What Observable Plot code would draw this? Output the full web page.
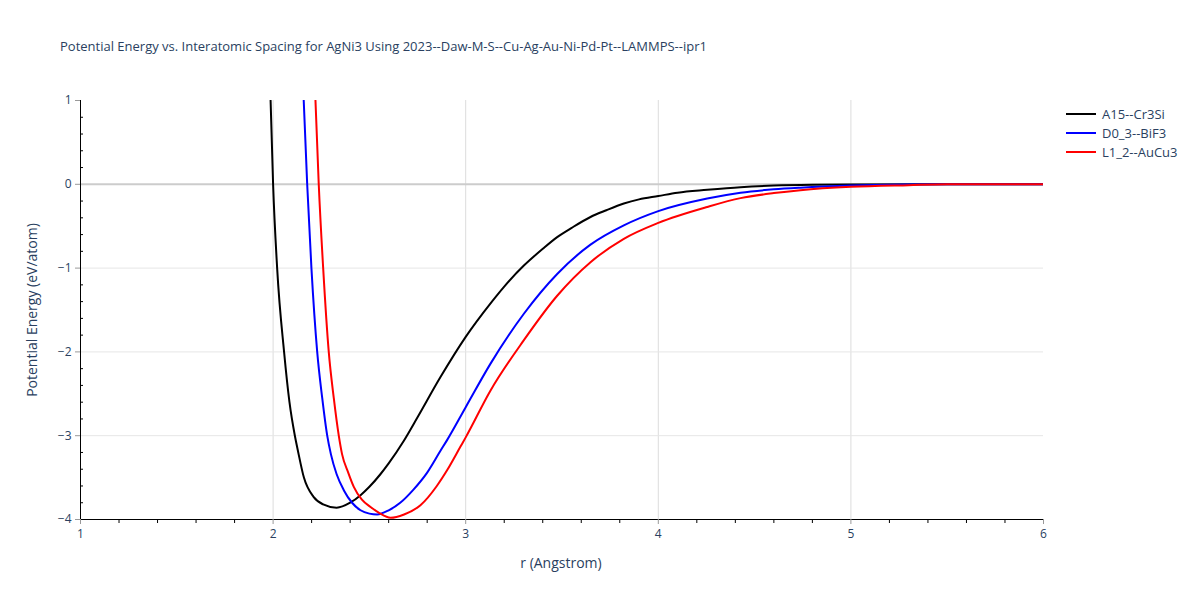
<!DOCTYPE html>
<html><head><meta charset="utf-8">
<script src="https://cdn.jsdelivr.net/npm/d3@7"></script>
<script src="https://cdn.jsdelivr.net/npm/@observablehq/plot@0.6"></script>
<style>
body{margin:0;background:#fff;font-family:"Open Sans",sans-serif;}
#wrap{position:relative;width:1200px;height:600px;}
.abs{position:absolute;color:#2a3f5f;white-space:nowrap;}
#title{left:60px;top:37px;font-size:13px;}
#xlab{left:561px;top:553px;font-size:14px;transform:translateX(-50%);}
#ylab{left:31px;top:310px;font-size:14px;transform:translate(-50%,-50%) rotate(-90deg);}
#legend{left:1066px;top:104px;font-size:13px;}
.lrow{display:flex;align-items:center;height:19px;}
.lrow svg{margin-right:6px;}
</style>
</head><body>
<div id="wrap">
<div id="plot"></div>
<div class="abs" id="title">Potential Energy vs. Interatomic Spacing for AgNi3 Using 2023--Daw-M-S--Cu-Ag-Au-Ni-Pd-Pt--LAMMPS--ipr1</div>
<div class="abs" id="xlab">r (Angstrom)</div>
<div class="abs" id="ylab">Potential Energy (eV/atom)</div>
<div class="abs" id="legend"></div>
</div>
<script>
const seriesNames = ["A15--Cr3Si", "D0_3--BiF3", "L1_2--AuCu3"];
const seriesColors = ["#000000", "#0000ff", "#ff0000"];

const rA15 = [1.987, 2.0, 2.021, 2.057, 2.085, 2.113, 2.128, 2.16, 2.21, 2.26, 2.33, 2.40, 2.454, 2.50, 2.557, 2.60, 2.679, 2.75, 2.869, 3.0, 3.129, 3.2, 3.302, 3.4, 3.475, 3.55, 3.648, 3.73, 3.821, 3.9, 4.0, 4.1, 4.254, 4.427, 4.6, 4.8, 5.0, 5.5, 6.0];
const eA15 = [1.0, 0.0, -1.0, -2.0, -2.6, -3.0, -3.17, -3.5, -3.73, -3.82, -3.86, -3.80, -3.71, -3.61, -3.46, -3.33, -3.06, -2.78, -2.30, -1.82, -1.42, -1.22, -0.97, -0.77, -0.63, -0.52, -0.39, -0.31, -0.23, -0.18, -0.14, -0.10, -0.066, -0.034, -0.015, -0.005, -0.002, 0.0, 0.0];

const rD03 = [2.159, 2.177, 2.199, 2.229, 2.255, 2.281, 2.30, 2.33, 2.367, 2.41, 2.454, 2.50, 2.54, 2.60, 2.66, 2.73, 2.80, 2.869, 2.904, 3.0, 3.129, 3.302, 3.475, 3.648, 3.821, 4.0, 4.254, 4.427, 4.6, 4.738, 5.0, 5.3, 5.5, 6.0];
const eD03 = [1.0, 0.0, -1.0, -2.0, -2.55, -3.0, -3.22, -3.46, -3.65, -3.80, -3.89, -3.93, -3.94, -3.89, -3.80, -3.64, -3.44, -3.18, -3.05, -2.66, -2.14, -1.545, -1.07, -0.72, -0.49, -0.32, -0.17, -0.10, -0.06, -0.04, -0.015, -0.003, 0.0, 0.0];

const rL12 = [2.22, 2.237, 2.26, 2.289, 2.315, 2.341, 2.358, 2.39, 2.419, 2.46, 2.506, 2.55, 2.61, 2.68, 2.765, 2.85, 2.904, 2.973, 3.0, 3.129, 3.302, 3.475, 3.648, 3.821, 4.0, 4.254, 4.427, 4.6, 4.738, 5.0, 5.3, 5.5, 6.0];
const eL12 = [1.0, 0.0, -1.0, -2.0, -2.55, -3.0, -3.22, -3.44, -3.61, -3.76, -3.85, -3.92, -3.98, -3.94, -3.83, -3.60, -3.41, -3.13, -3.02, -2.46, -1.86, -1.33, -0.93, -0.65, -0.46, -0.27, -0.165, -0.105, -0.07, -0.03, -0.01, 0.0, 0.0];

const xTicks = [1, 2, 3, 4, 5, 6];
const yTicks = [-4, -3, -2, -1, 0, 1];
const xGrid = [2, 3, 4, 5];
const yGrid = [-3, -2, -1];
const xMinor = d3.range(1.2, 6, 0.2).filter(v => Math.abs(v - Math.round(v)) > 1e-6);
const yMinor = d3.range(-3.8, 1, 0.2).filter(v => Math.abs(v - Math.round(v)) > 1e-6);

const rows = [];
[[rA15, eA15], [rD03, eD03], [rL12, eL12]].forEach(([rs, es], i) => {
  rs.forEach((r, j) => rows.push({name: seriesNames[i], r, e: es[j]}));
});

const chart = Plot.plot({
  width: 1200, height: 600,
  marginLeft: 80, marginRight: 157, marginTop: 100, marginBottom: 81,
  style: {fontFamily: '"Open Sans", sans-serif', background: "#fff"},
  x: {domain: [1, 6], label: null},
  y: {domain: [-4, 1], label: null},
  color: {domain: seriesNames, range: seriesColors},
  marks: [
    Plot.gridX(xGrid, {stroke: "#dcdcdc", strokeOpacity: 1}),
    Plot.gridY(yGrid, {stroke: "#e6e6e6", strokeOpacity: 1}),
    Plot.ruleY([0], {stroke: "#cccccc", strokeWidth: 2}),
    Plot.line(rows, {x: "r", y: "e", z: "name", stroke: "name", strokeWidth: 2, curve: "monotone-x", clip: true}),
    Plot.ruleY([-4], {stroke: "#000"}),
    Plot.ruleX([1], {stroke: "#000"}),
    Plot.axisX(xMinor, {tickSize: 4, tickFormat: () => "", stroke: "#000", label: null}),
    Plot.axisX(xTicks, {tickSize: 5, tickFormat: () => "", stroke: "#999", label: null}),
    Plot.axisX(xTicks, {tickSize: 0, tickPadding: 10, fontSize: 12, color: "#2a3f5f", label: null, tickFormat: d => String(d)}),
    Plot.axisY(yMinor, {tickSize: 3, dx: 3, tickFormat: () => "", stroke: "#000", label: null}),
    Plot.axisY(yTicks, {tickSize: 5, tickFormat: () => "", stroke: "#999", label: null}),
    Plot.axisY(yTicks, {tickSize: 0, tickPadding: 9, fontSize: 12, color: "#2a3f5f", label: null, tickFormat: d => d < 0 ? "\u2212" + Math.abs(d) : String(d)})
  ]
});
document.getElementById("plot").appendChild(chart);

const legend = document.getElementById("legend");
seriesNames.forEach((n, i) => {
  const row = document.createElement("div");
  row.className = "lrow";
  row.innerHTML = `<svg width="30" height="4"><line x1="0" y1="2" x2="30" y2="2" stroke="${seriesColors[i]}" stroke-width="2"/></svg><span>${n}</span>`;
  legend.appendChild(row);
});
</script>
</body></html>
